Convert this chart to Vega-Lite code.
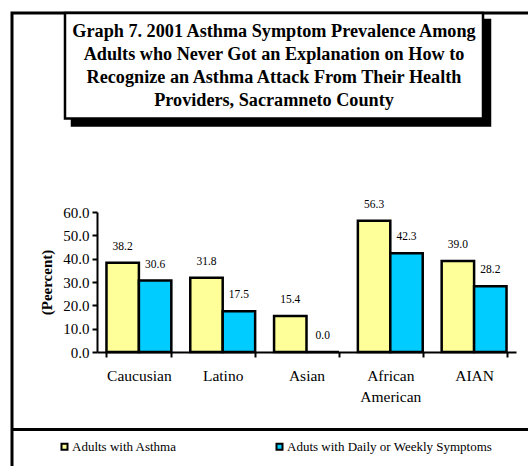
{
  "$schema": "https://vega.github.io/schema/vega-lite/v6.json",
  "width": 520,
  "height": 460,
  "autosize": {"type": "none"},
  "padding": {"left": 12, "top": 13, "right": -4, "bottom": -7},
  "background": "white",
  "config": {
    "view": {"stroke": "black", "strokeWidth": 3, "fill": "white"},
    "font": "Liberation Serif"
  },
  "resolve": {"scale": {"x": "independent", "y": "independent"}},
  "layer": [
    {
      "data": {
        "values": [
          {
            "panel": "heading",
            "heading": "Graph 7. 2001 Asthma Symptom Prevalence Among\nAdults who Never Got an Explanation on How to\nRecognize an Asthma Attack From Their Health\nProviders, Sacramneto County"
          }
        ]
      },
      "encoding": {
        "x": {
          "field": "panel",
          "type": "nominal",
          "scale": {"range": [0, 520], "paddingInner": 0, "paddingOuter": 0.122, "align": 0.5196},
          "axis": {
            "orient": "bottom",
            "offset": -44,
            "domainColor": "black",
            "domainWidth": 3,
            "ticks": false,
            "labels": false,
            "title": null,
            "grid": false
          }
        },
        "y": {
          "field": "panel",
          "type": "nominal",
          "scale": {"range": [0, 105.5], "paddingInner": 0, "paddingOuter": 0},
          "axis": null
        }
      },
      "layer": [
        {"mark": {"type": "rect", "fill": "black", "stroke": "black", "strokeWidth": 2.5, "xOffset": 7, "yOffset": 7}},
        {"mark": {"type": "rect", "fill": "white", "stroke": "black", "strokeWidth": 2.5}},
        {
          "mark": {
            "type": "text",
            "lineBreak": "\n",
            "font": "Liberation Serif",
            "fontWeight": "bold",
            "fontSize": 18.2,
            "lineHeight": 23,
            "align": "center",
            "baseline": "middle",
            "dy": -33.5,
            "color": "black"
          },
          "encoding": {"text": {"field": "heading"}}
        }
      ]
    },
    {
      "data": {
        "values": [
          {"group": "Caucusian", "series": "Adults with Asthma", "pct": 38.2},
          {"group": "Caucusian", "series": "Aduts with Daily or Weekly Symptoms", "pct": 30.6},
          {"group": "Latino", "series": "Adults with Asthma", "pct": 31.8},
          {"group": "Latino", "series": "Aduts with Daily or Weekly Symptoms", "pct": 17.5},
          {"group": "Asian", "series": "Adults with Asthma", "pct": 15.4},
          {"group": "Asian", "series": "Aduts with Daily or Weekly Symptoms", "pct": 0.0},
          {"group": "African American", "series": "Adults with Asthma", "pct": 56.3},
          {"group": "African American", "series": "Aduts with Daily or Weekly Symptoms", "pct": 42.3},
          {"group": "AIAN", "series": "Adults with Asthma", "pct": 39.0},
          {"group": "AIAN", "series": "Aduts with Daily or Weekly Symptoms", "pct": 28.2}
        ]
      },
      "encoding": {
        "x": {
          "field": "group",
          "type": "nominal",
          "sort": ["Caucusian", "Latino", "Asian", "African American", "AIAN"],
          "scale": {"range": [85, 504], "paddingInner": 0.226, "paddingOuter": 0.113},
          "axis": {
            "orient": "bottom",
            "offset": -121,
            "title": null,
            "grid": false,
            "domainColor": "black",
            "domainWidth": 2,
            "tickBand": "extent",
            "tickColor": "black",
            "tickWidth": 2,
            "tickSize": 5,
            "labelAngle": 0,
            "labelFont": "Liberation Serif",
            "labelFontSize": 15.5,
            "labelColor": "black",
            "labelPadding": 11,
            "labelLineHeight": 21,
            "labelExpr": "split(datum.label, ' ')"
          }
        },
        "xOffset": {
          "field": "series",
          "type": "nominal",
          "sort": ["Adults with Asthma", "Aduts with Daily or Weekly Symptoms"],
          "scale": {"paddingInner": 0, "paddingOuter": 0}
        },
        "y": {
          "field": "pct",
          "type": "quantitative",
          "scale": {"domain": [0, 60], "range": [339, 199], "nice": false, "zero": true},
          "axis": {
            "orient": "left",
            "offset": -85,
            "values": [0, 10, 20, 30, 40, 50, 60],
            "format": ".1f",
            "grid": false,
            "title": "(Peercent)",
            "titleFont": "Liberation Serif",
            "titleFontWeight": "bold",
            "titleFontSize": 15,
            "titleColor": "black",
            "titlePadding": 8,
            "domainColor": "black",
            "domainWidth": 2,
            "tickColor": "black",
            "tickWidth": 2,
            "tickSize": 5,
            "labelFont": "Liberation Serif",
            "labelFontSize": 15,
            "labelColor": "black",
            "labelPadding": 3
          }
        }
      },
      "layer": [
        {
          "mark": {"type": "bar", "stroke": "black", "strokeWidth": 2.5},
          "encoding": {
            "color": {
              "field": "series",
              "type": "nominal",
              "scale": {
                "domain": ["Adults with Asthma", "Aduts with Daily or Weekly Symptoms"],
                "range": ["#FFFF99", "#00CCFF"]
              },
              "legend": {
                "orient": "none",
                "legendX": 46,
                "legendY": 427,
                "direction": "horizontal",
                "title": null,
                "padding": 0,
                "symbolType": "square",
                "symbolSize": 36,
                "symbolStrokeColor": "black",
                "symbolStrokeWidth": 2,
                "symbolOpacity": 1,
                "labelFont": "Liberation Serif",
                "labelFontSize": 13,
                "labelColor": "black",
                "labelOffset": 1,
                "labelLimit": 400,
                "columnPadding": 95
              }
            }
          }
        },
        {
          "mark": {
            "type": "text",
            "baseline": "alphabetic",
            "dy": -13,
            "font": "Liberation Serif",
            "fontSize": 11.5,
            "color": "black"
          },
          "encoding": {"text": {"field": "pct", "type": "quantitative", "format": ".1f"}}
        }
      ]
    }
  ]
}
